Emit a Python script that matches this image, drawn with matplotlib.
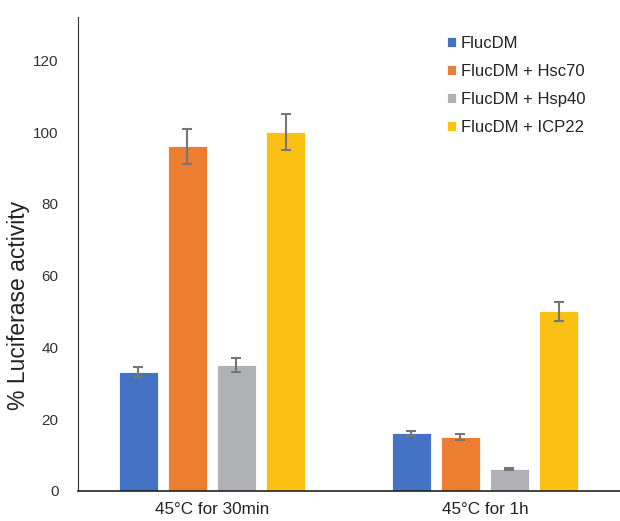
import matplotlib
matplotlib.use("Agg")
import matplotlib.pyplot as plt
import numpy as np

plt.rcParams['font.family'] = ["Liberation Sans", 'DejaVu Sans']

groups = ["45°C for 30min", "45°C for 1h"]
series = ["FlucDM", "FlucDM + Hsc70", "FlucDM + Hsp40", "FlucDM + ICP22"]
values = [[33, 16], [96, 15], [35, 6], [100, 50]]
errors = [[1.4, 0.65], [4.9, 0.85], [1.9, 0.3], [5.0, 2.6]]
colors = ["#4472C4", "#ED7D31", "#B0B1B4", "#FAC013"]

fig = plt.figure(figsize=(6.2, 5.21), dpi=100)
ax = fig.add_axes([0.126, 0.058, 0.874, 0.909])

x = np.arange(len(groups))
w = 0.143
step = 0.18
for i, (s, v, e, c) in enumerate(zip(series, values, errors, colors)):
    pos = x + (i - 1.5) * step
    ax.bar(pos, v, width=w, color=c, edgecolor="white", linewidth=0.6, label=s, zorder=2)
    ax.errorbar(pos, v, yerr=e, fmt="none", ecolor="#767676", elinewidth=1.5,
                capsize=3.5, capthick=1.5, zorder=3)

ax.set_xlim(-0.49, 1.495)
ax.set_ylim(0, 132)
ax.set_yticks([0, 20, 40, 60, 80, 100, 120])
ax.set_xticks(x)
ax.set_xticklabels(groups, fontsize=12.3, color="#222222")
ax.tick_params(axis="both", length=0)
ax.tick_params(axis="y", pad=14, labelsize=11, labelcolor="#333333")
ax.tick_params(axis="x", pad=8)
for sp in ["top", "right"]:
    ax.spines[sp].set_visible(False)
ax.spines["left"].set_color("#333333")
ax.spines["left"].set_linewidth(0.8)
ax.spines["bottom"].set_color("#222222")
ax.spines["bottom"].set_linewidth(1.2)
ax.set_ylabel("% Luciferase activity", fontsize=16.5, color="#222222")
ax.yaxis.set_label_coords(-0.088, 0.392)

leg = ax.legend(loc="upper left", bbox_to_anchor=(0.668, 0.974), frameon=False,
                fontsize=12, handlelength=0.55, handleheight=0.55, handletextpad=0.3,
                labelspacing=0.78, borderaxespad=0)
for t in leg.get_texts():
    t.set_color("#222222")

fig.savefig("out.png", dpi=100)
